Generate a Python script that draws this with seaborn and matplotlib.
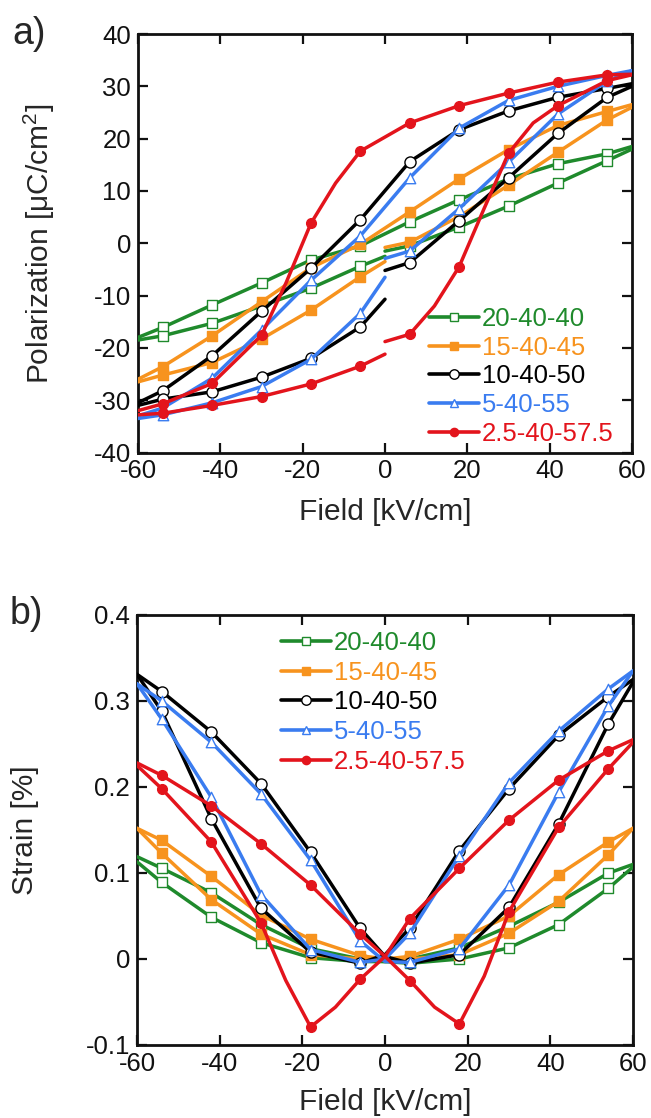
import numpy as np
import pandas as pd
import matplotlib
matplotlib.use("Agg")
import matplotlib.pyplot as plt
import seaborn as sns
from matplotlib.lines import Line2D

sns.set_theme(style="ticks")
plt.rcParams["font.family"] = ["Liberation Sans", "DejaVu Sans"]
plt.rcParams["axes.unicode_minus"] = False
plt.rcParams["mathtext.fontset"] = "custom"
plt.rcParams["mathtext.rm"] = "Liberation Sans"

# ---------------- data ----------------
LABELS = ["20-40-40", "15-40-45", "10-40-50", "5-40-55", "2.5-40-57.5"]
MARK_E = [-54, -42, -30, -18, -6, 6, 18, 30, 42, 54]

X_TICKS = [-60, -40, -20, 0, 20, 40, 60]
X_TICKLABELS = ["-60", "-40", "-20", "0", "20", "40", "60"]
P_TICKS = [-40, -30, -20, -10, 0, 10, 20, 30, 40]
P_TICKLABELS = ["-40", "-30", "-20", "-10", "0", "10", "20", "30", "40"]
S_TICKS = [-0.1, 0.0, 0.1, 0.2, 0.3, 0.4]
S_TICKLABELS = ["-0.1", "0", "0.1", "0.2", "0.3", "0.4"]

# Polarization loops (a): descending branch, ascending branch (negative / positive halves)
E_DESC = [60, 54, 42, 30, 18, 6, -6, -18, -30, -42, -54, -60]
E_ASC_NEG = [-60, -54, -42, -30, -18, -6, 0]
E_ASC_POS = [0, 6, 18, 30, 42, 54, 60]
E_DESC_RED = [60, 54, 42, 30, 18, 6, -6, -12, -18, -24, -30, -42, -54, -60]
E_ASC_POS_RED = [0, 6, 12, 18, 24, 30, 36, 42, 54, 60]

P_DESC_20 = [18.5, 17.1, 15.2, 12.3, 8.3, 4.1, -0.5, -3.2, -7.6, -11.8, -16.1, -18.0]
P_ASCN_20 = [-18.5, -17.7, -15.3, -12.0, -8.6, -4.4, -2.5]
P_ASCP_20 = [-1.5, -0.5, 3.1, 7.1, 11.5, 15.8, 18.0]

P_DESC_15 = [26.5, 25.2, 22.5, 17.9, 12.3, 6.0, -0.2, -4.7, -11.2, -17.7, -23.6, -26.0]
P_ASCN_15 = [-26.5, -25.2, -22.8, -18.3, -12.8, -6.4, -3.5]
P_ASCP_15 = [-0.8, 0.2, 5.1, 11.1, 17.4, 23.6, 26.0]

P_DESC_10 = [30.5, 29.6, 27.9, 25.3, 21.7, 15.6, 4.5, -4.8, -13.0, -21.5, -28.2, -30.5]
P_ASCN_10 = [-31.0, -29.8, -28.4, -25.6, -22.0, -16.0, -10.7]
P_ASCP_10 = [-5.2, -3.7, 4.3, 12.5, 21.0, 27.9, 30.0]

P_DESC_5 = [33.0, 32.1, 30.0, 27.3, 22.0, 12.5, 1.4, -7.1, -16.6, -25.8, -31.5, -33.0]
P_ASCN_5 = [-33.5, -32.8, -30.5, -27.4, -22.2, -13.4, -6.5]
P_ASCP_5 = [-2.9, -1.5, 6.6, 15.5, 24.7, 31.0, 33.0]

P_DESC_25 = [32.3, 32.2, 30.8, 28.7, 26.3, 23.0, 17.6, 11.5, 3.8, -7.5, -17.6, -26.8, -30.7, -32.0]
P_ASCN_25 = [-32.8, -32.5, -31.0, -29.3, -26.9, -23.5, -21.2]
P_ASCP_25 = [-18.8, -17.4, -12.0, -4.5, 6.5, 17.2, 23.0, 26.3, 31.1, 32.2]

# Strain butterflies (b)
E_S_ASC = [-60, -54, -42, -30, -18, -6, 0, 6, 18, 30, 42, 54, 60]
E_S_DESC = [60, 54, 42, 30, 18, 6, 0, -6, -18, -30, -42, -54, -60]
E_S_ASC_RED = [-60, -54, -42, -30, -18, -6, 0, 6, 12, 18, 24, 30, 42, 54, 60]
E_S_DESC_RED = [60, 54, 42, 30, 18, 6, 0, -6, -12, -18, -24, -30, -42, -54, -60]

S_ASC_20 = [0.119, 0.1055, 0.077, 0.040, 0.012, 0.000, -0.003, -0.005, 0.000, 0.013, 0.040, 0.082, 0.107]
S_DESC_20 = [0.110, 0.0998, 0.066, 0.038, 0.013, 0.000, -0.003, -0.003, 0.0015, 0.019, 0.0485, 0.089, 0.113]

S_ASC_15 = [0.152, 0.138, 0.096, 0.051, 0.023, 0.004, 0.000, 0.000, 0.005, 0.030, 0.067, 0.121, 0.152]
S_DESC_15 = [0.152, 0.136, 0.098, 0.050, 0.023, 0.003, 0.000, 0.000, 0.005, 0.029, 0.069, 0.123, 0.152]

S_ASC_10 = [0.331, 0.311, 0.264, 0.204, 0.124, 0.0355, 0.003, -0.005, 0.005, 0.060, 0.157, 0.273, 0.322]
S_DESC_10 = [0.325, 0.305, 0.260, 0.198, 0.126, 0.036, 0.005, -0.005, 0.008, 0.059, 0.163, 0.288, 0.331]

S_ASC_5 = [0.320, 0.300, 0.252, 0.192, 0.115, 0.021, -0.003, -0.004, 0.012, 0.086, 0.194, 0.294, 0.335]
S_DESC_5 = [0.335, 0.314, 0.265, 0.205, 0.120, 0.030, 0.000, -0.004, 0.011, 0.075, 0.188, 0.279, 0.320]

S_ASC_25 = [0.228, 0.2135, 0.178, 0.134, 0.086, 0.029, 0.003, -0.025, -0.056, -0.0755, -0.020, 0.055, 0.153, 0.221, 0.252]
S_DESC_25 = [0.255, 0.242, 0.208, 0.1615, 0.1055, 0.047, 0.003, -0.0235, -0.056, -0.079, -0.025, 0.042, 0.136, 0.198, 0.225]

# ---------------- styles ----------------
COLORS = ["#1f8a2c", "#f7931e", "#000000", "#3a7cf0", "#e3141c"]
MARKERS = ["s", "s", "o", "^", "o"]
FACES = ["white", "#f7931e", "white", "white", "#e3141c"]
SIZES = [7.0, 7.0, 8.0, 7.5, 7.0]

TOP_BRANCHES = [
    [(E_DESC, P_DESC_20), (E_ASC_NEG, P_ASCN_20), (E_ASC_POS, P_ASCP_20)],
    [(E_DESC, P_DESC_15), (E_ASC_NEG, P_ASCN_15), (E_ASC_POS, P_ASCP_15)],
    [(E_DESC, P_DESC_10), (E_ASC_NEG, P_ASCN_10), (E_ASC_POS, P_ASCP_10)],
    [(E_DESC, P_DESC_5), (E_ASC_NEG, P_ASCN_5), (E_ASC_POS, P_ASCP_5)],
    [(E_DESC_RED, P_DESC_25), (E_ASC_NEG, P_ASCN_25), (E_ASC_POS_RED, P_ASCP_25)],
]
BOT_BRANCHES = [
    [(E_S_ASC, S_ASC_20), (E_S_DESC, S_DESC_20)],
    [(E_S_ASC, S_ASC_15), (E_S_DESC, S_DESC_15)],
    [(E_S_ASC, S_ASC_10), (E_S_DESC, S_DESC_10)],
    [(E_S_ASC, S_ASC_5), (E_S_DESC, S_DESC_5)],
    [(E_S_ASC_RED, S_ASC_25), (E_S_DESC_RED, S_DESC_25)],
]

W, H = 651, 1118
fig = plt.figure(figsize=(W / 100, H / 100), dpi=100)
ax1 = fig.add_axes([138 / W, 1 - 452.5 / H, 494 / W, 418.5 / H])
ax2 = fig.add_axes([137 / W, 1 - 1045 / H, 496 / W, 430 / H])


def draw(ax, branches):
    for i, brs in enumerate(branches):
        for xs, ys in brs:
            df = pd.DataFrame({"x": xs, "y": ys})
            sns.lineplot(data=df, x="x", y="y", sort=False, estimator=None,
                         color=COLORS[i], lw=2.5, ax=ax, zorder=3 + i)
            m = df[df["x"].isin(MARK_E)]
            sns.scatterplot(data=m, x="x", y="y", marker=MARKERS[i],
                            s=SIZES[i] ** 2, color=FACES[i], edgecolor=COLORS[i],
                            linewidth=1.0, ax=ax, zorder=3.5 + i)


draw(ax1, TOP_BRANCHES)
draw(ax2, BOT_BRANCHES)


def style(ax, yt, ytl, ylim):
    ax.set_xlim(-60, 60)
    ax.set_ylim(*ylim)
    ax.set_xticks(X_TICKS)
    ax.set_xticklabels(X_TICKLABELS)
    ax.set_yticks(yt)
    ax.set_yticklabels(ytl)
    ax.tick_params(direction="in", length=7, width=1.6, top=True, right=True,
                   labelsize=18.5, pad=5, colors="#111111")
    for sp in ax.spines.values():
        sp.set_linewidth(2.0)
        sp.set_color("#111111")


style(ax1, P_TICKS, P_TICKLABELS, (-40, 40))
style(ax2, S_TICKS, S_TICKLABELS, (-0.1, 0.4))

ax1.set_xlabel("Field [kV/cm]", fontsize=21.5)
ax1.set_ylabel(r"Polarization [μC/cm$^{\mathregular{2}}$]", fontsize=21.5)
ax2.set_xlabel("Field [kV/cm]", fontsize=21.5)
ax2.set_ylabel("Strain [%]", fontsize=21.5)
ax1.xaxis.set_label_coords(0.5, -0.108)
ax2.xaxis.set_label_coords(0.5, -0.100)
ax1.yaxis.set_label_coords(-0.163, 0.5)
ax2.yaxis.set_label_coords(-0.198, 0.5)

fig.text(12 / W, 1 - 44 / H, "a)", fontsize=27, va="baseline")
fig.text(10 / W, 1 - 624 / H, "b)", fontsize=27, va="baseline")

handles = [Line2D([], [], color=COLORS[i], lw=2.6, marker=MARKERS[i],
                  markersize=SIZES[i] * 0.85, markerfacecolor=FACES[i],
                  markeredgecolor=COLORS[i], markeredgewidth=1.0)
           for i in range(5)]


def legend(ax, x, y, sp):
    lg = ax.legend(handles, LABELS, loc="upper left", bbox_to_anchor=(x / W, 1 - y / H),
                   bbox_transform=fig.transFigure, frameon=False, fontsize=18.5,
                   handlelength=1.95, handletextpad=0.12, labelspacing=sp,
                   borderpad=0, borderaxespad=0)
    for t, c in zip(lg.get_texts(), COLORS):
        t.set_color(c)
    lg.set_zorder(20)


legend(ax1, 429, 307, 0.18)
legend(ax2, 281, 631, 0.22)

fig.savefig("out.png", dpi=100)
